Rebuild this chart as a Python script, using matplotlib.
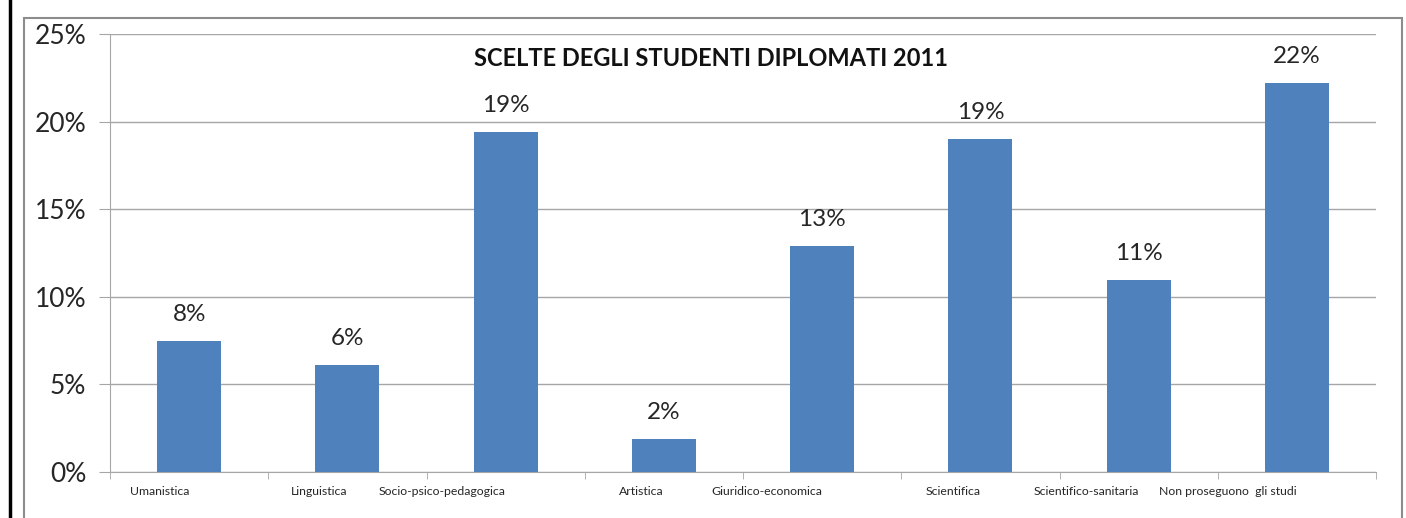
import matplotlib.pyplot as plt
from matplotlib.lines import Line2D
from matplotlib.patches import Rectangle
import numpy as np

plt.rcParams['font.family'] = ['Lato', 'DejaVu Sans']

# dati del grafico
categorie = ["Umanistica", "Linguistica", "Socio-psico-pedagogica", "Artistica",
             "Giuridico-economica", "Scientifica", "Scientifico-sanitaria",
             "Non proseguono  gli studi"]
valori = [7.5, 6.1, 19.4, 1.9, 12.9, 19.0, 10.95, 22.2]
etichette = ["8%", "6%", "19%", "2%", "13%", "19%", "11%", "22%"]
yticks = [0, 5, 10, 15, 20, 25]

fig = plt.figure(figsize=(14.06, 5.18), dpi=100)
ax = fig.add_axes([110/1406, 1 - 472/518, 1266/1406, 438/518])

x = np.arange(len(categorie))
ax.bar(x, valori, width=0.405, color="#4F81BD", zorder=3)

for xi, v, t in zip(x, valori, etichette):
    ax.text(xi, v + 0.9, t, ha="center", va="bottom", fontsize=17.5, color="#262626")

ax.set_xlim(-0.5, len(categorie) - 0.5)
ax.set_ylim(0, 25)
ax.set_yticks(yticks)
ax.set_yticklabels([str(t) + "%" for t in yticks], fontsize=19, color="#262626")
ax.yaxis.grid(True, color="#a6a6a6", linewidth=1, zorder=0)
ax.tick_params(axis="y", length=8, color="#a6a6a6", pad=9)

# etichette categorie allineate a destra sul centro
ax.set_xticks(x)
ax.set_xticklabels(categorie, fontsize=8.8, ha="right", color="#262626")
ax.tick_params(axis="x", which="major", length=0, pad=10)
ax.set_xticks(np.arange(-0.5, len(categorie)), minor=True)
ax.tick_params(axis="x", which="minor", length=5, color="#a6a6a6")

for s in ["top", "right"]:
    ax.spines[s].set_visible(False)
for s in ["left", "bottom"]:
    ax.spines[s].set_color("#a6a6a6")

fig.text(711/1406, 1 - 58/518, "SCELTE DEGLI STUDENTI DIPLOMATI 2011", ha="center",
         va="center", fontsize=17, fontweight="bold", color="#111111")

# cornici
fig.patches.append(Rectangle((24/1406, -0.1), 1378/1406, 1.1 - 18/518, transform=fig.transFigure,
                             fill=False, edgecolor="#8c8c8c", linewidth=1.5))
fig.lines.append(Line2D([9.5/1406, 9.5/1406], [0, 1], transform=fig.transFigure,
                        color="black", linewidth=2.5))

fig.savefig("out.png", dpi=100)
